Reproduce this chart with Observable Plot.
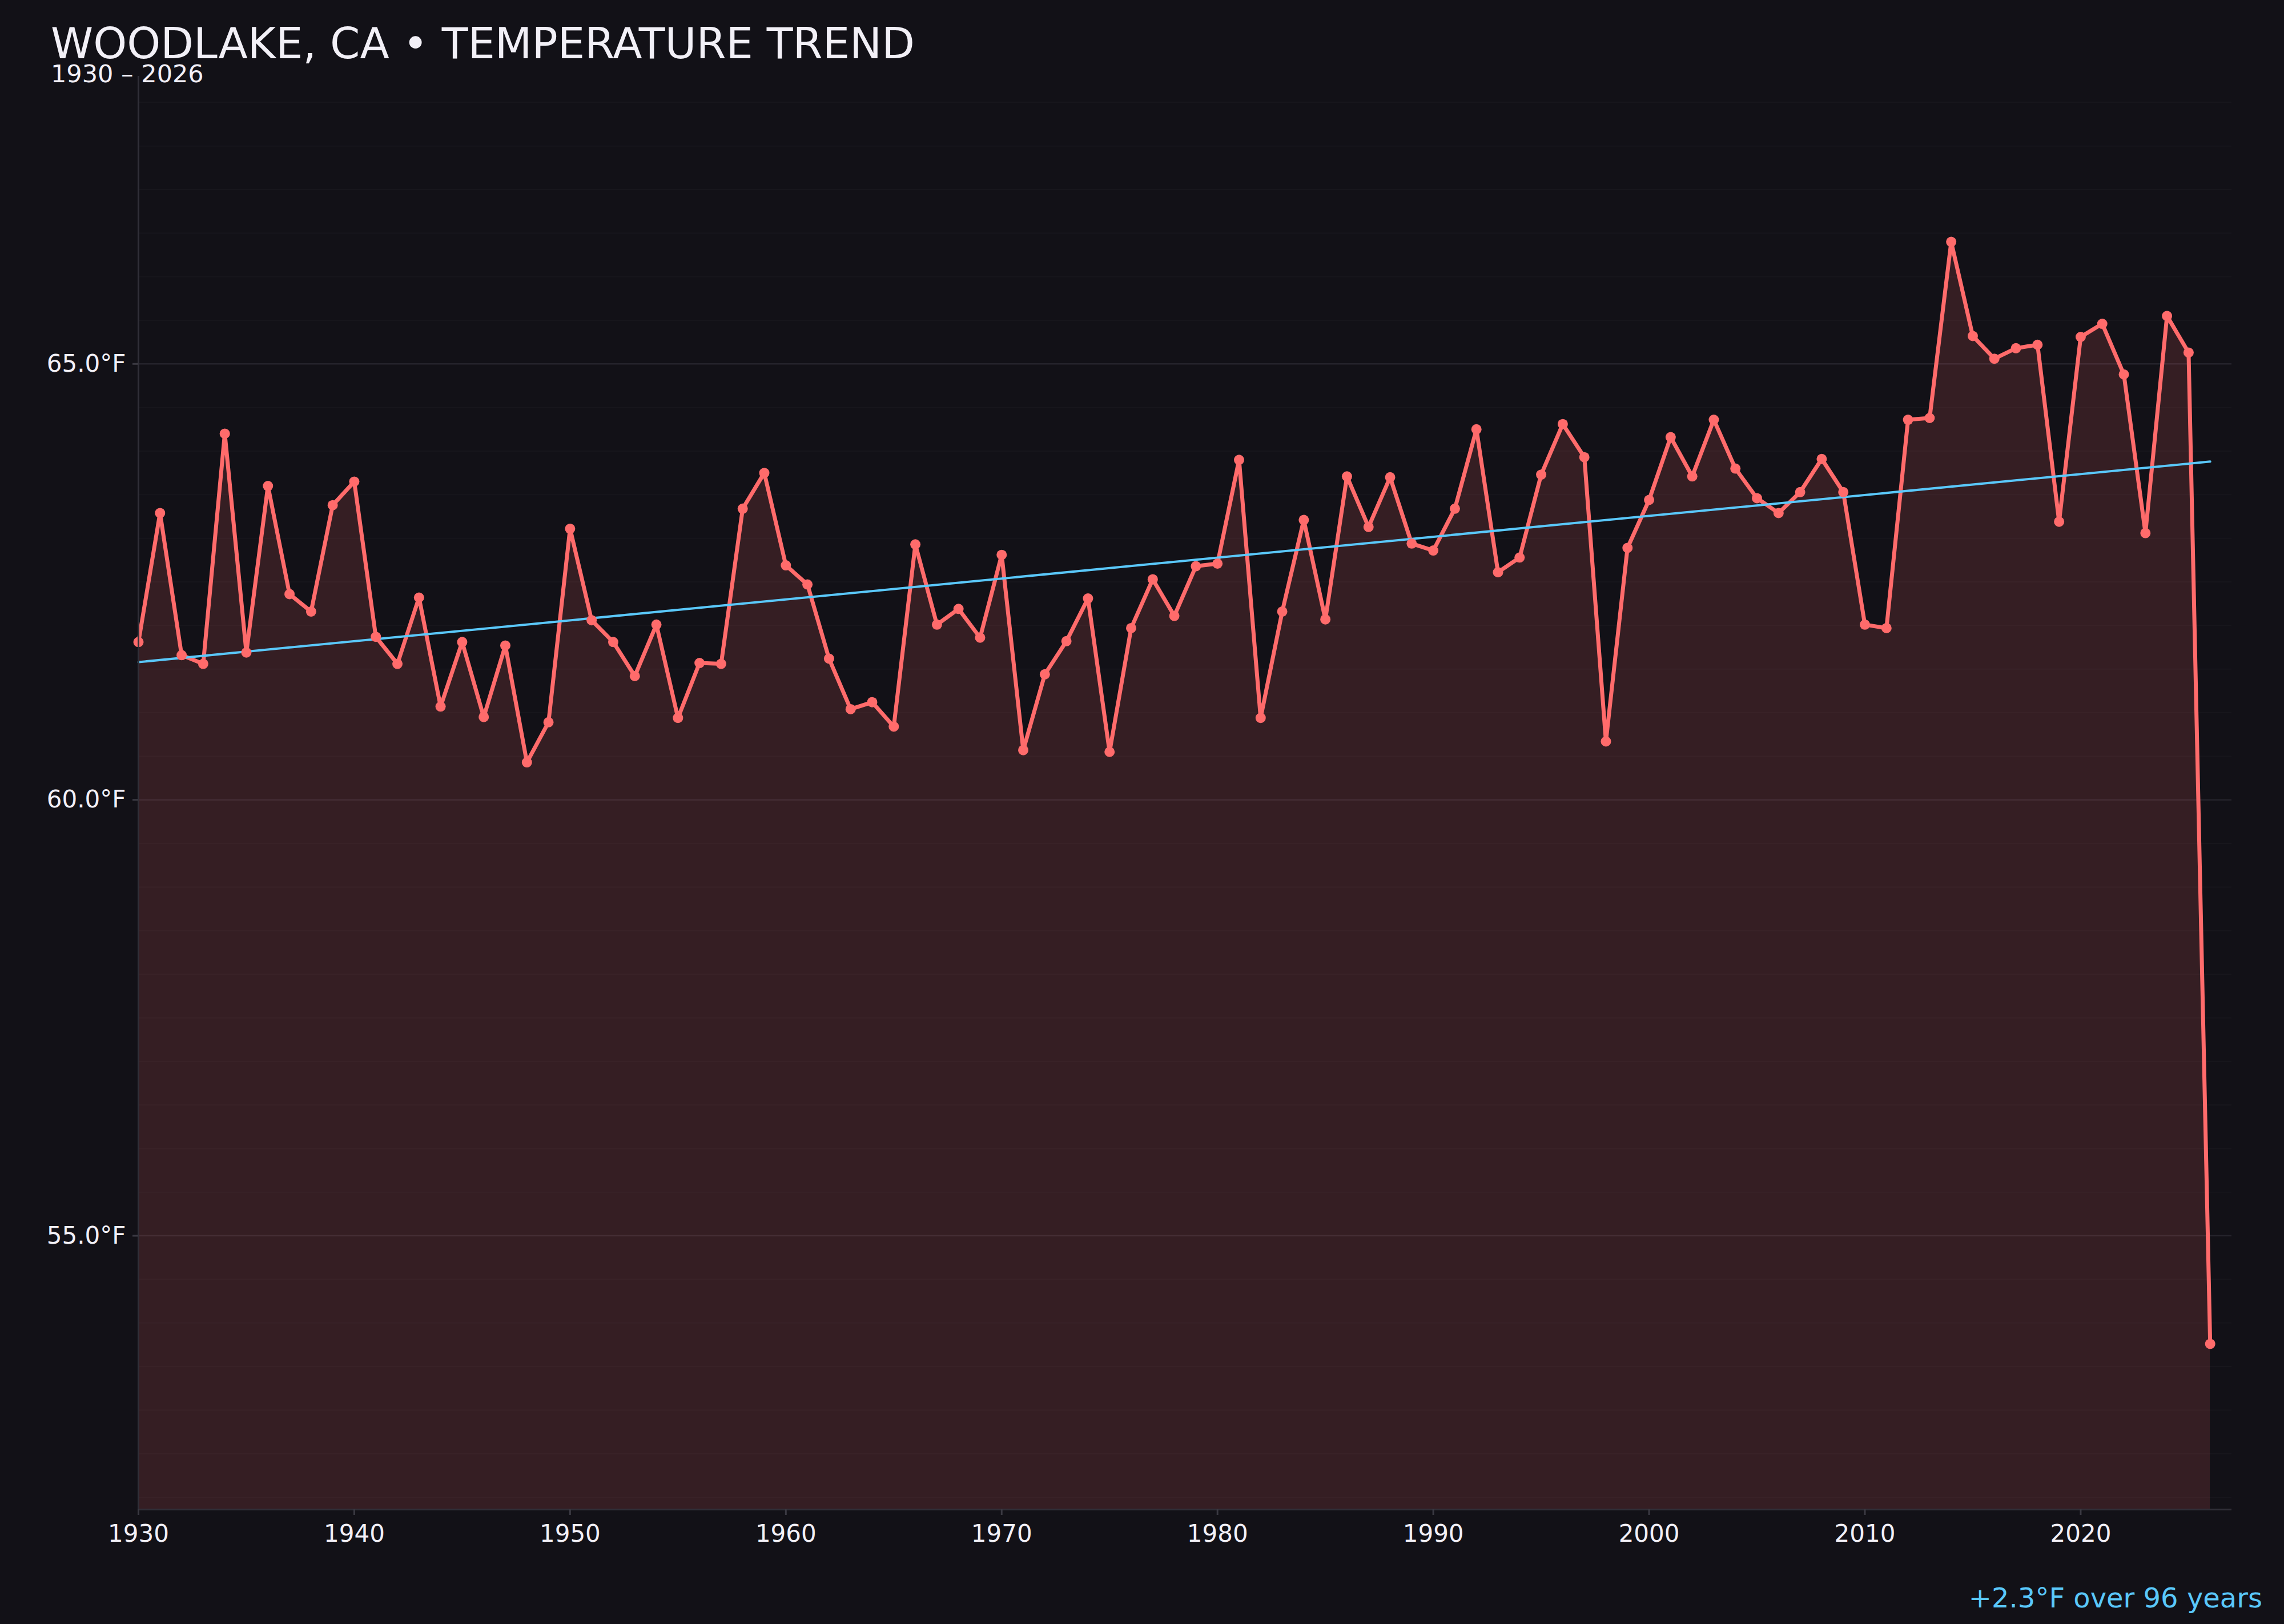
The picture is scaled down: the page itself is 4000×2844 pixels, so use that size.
<!DOCTYPE html>
<html>
<head>
<meta charset="utf-8">
<script src="https://cdn.jsdelivr.net/npm/d3@7"></script>
<script src="https://cdn.jsdelivr.net/npm/@observablehq/plot@0.6"></script>
<style>
  html, body { margin: 0; padding: 0; background: #121117; }
  #wrap { position: relative; width: 4000px; height: 2844px; background: #121117; overflow: hidden;
          font-family: "DejaVu Sans", sans-serif; }
  #title { position: absolute; left: 89px; top: 44px; font-size: 75px; line-height: 64px; color: #f2f0f7; white-space: nowrap; }
  #subtitle { position: absolute; left: 89px; top: 111px; font-size: 43px; line-height: 36px; color: #f2f0f7; white-space: nowrap; }
  #caption { position: absolute; right: 38px; top: 2774px; font-size: 48px; line-height: 48px; color: #5ac8fa; white-space: nowrap; }
  #chart { position: absolute; left: 0; top: 0; }
</style>
</head>
<body>
<div id="wrap">
  <div id="chart"></div>
  <div id="title">WOODLAKE, CA • TEMPERATURE TREND</div>
  <div id="subtitle">1930 – 2026</div>
  <div id="caption">+2.3°F over 96 years</div>
</div>
<script>
const years = [
  1930,1931,1932,1933,1934,1935,1936,1937,1938,1939,
  1940,1941,1942,1943,1944,1945,1946,1947,1948,1949,
  1950,1951,1952,1953,1954,1955,1956,1957,1958,1959,
  1960,1961,1962,1963,1964,1965,1966,1967,1968,1969,
  1970,1971,1972,1973,1974,1975,1976,1977,1978,1979,
  1980,1981,1982,1983,1984,1985,1986,1987,1988,1989,
  1990,1991,1992,1993,1994,1995,1996,1997,1998,1999,
  2000,2001,2002,2003,2004,2005,2006,2007,2008,2009,
  2010,2011,2012,2013,2014,2015,2016,2017,2018,2019,
  2020,2021,2022,2023,2024,2025,2026
];
const temps = [
  61.81,63.29,61.66,61.56,64.20,61.69,63.60,62.36,62.16,63.38,
  63.65,61.87,61.56,62.32,61.07,61.81,60.95,61.77,60.43,60.89,
  63.11,62.06,61.81,61.42,62.01,60.94,61.57,61.56,63.34,63.75,
  62.69,62.47,61.62,61.04,61.12,60.84,62.93,62.01,62.19,61.86,
  62.81,60.57,61.44,61.82,62.31,60.55,61.97,62.53,62.11,62.68,
  62.71,63.90,60.94,62.16,63.21,62.07,63.71,63.13,63.70,62.94,
  62.86,63.34,64.25,62.61,62.78,63.73,64.31,63.93,60.67,62.89,
  63.44,64.16,63.71,64.36,63.80,63.46,63.29,63.53,63.91,63.53,
  62.01,61.97,64.36,64.38,66.40,65.32,65.06,65.18,65.22,63.19,
  65.31,65.46,64.88,63.06,65.55,65.13,53.76
];
const trendYears = [1930, 2026];
const trendTemps = [61.58, 63.88];
const xTicks = [1930,1940,1950,1960,1970,1980,1990,2000,2010,2020];
const yTicks = [55, 60, 65];
const minorGrid = [52,52.5,53,53.5,54,54.5,55,55.5,56,56.5,57,57.5,58,58.5,59,59.5,60,60.5,61,61.5,62,62.5,63,63.5,64,64.5,65,65.5,66,66.5,67,67.5,68];

const data = years.map((year, i) => ({year, temp: temps[i]}));
const trend = trendYears.map((year, i) => ({year, temp: trendTemps[i]}));
const yDomain = [51.86, 68.3];
const xDomain = [1930, 2027];

const chart = Plot.plot({
  width: 4000,
  height: 2844,
  marginLeft: 242,
  marginRight: 92,
  marginTop: 133,
  marginBottom: 201,
  style: { background: "transparent", color: "#f2f0f7", fontFamily: "DejaVu Sans, sans-serif", fontSize: "42px" },
  x: { domain: xDomain },
  y: { domain: yDomain },
  marks: [
    Plot.ruleY(minorGrid, { stroke: "#17161c", strokeWidth: 2 }),
    Plot.ruleY(yTicks, { stroke: "#24232b", strokeWidth: 2.5 }),
    Plot.areaY(data, { x: "year", y1: () => yDomain[0], y2: "temp", fill: "#ff6b6b", fillOpacity: 0.15 }),
    Plot.line(data, { x: "year", y: "temp", stroke: "#ff6b6b", strokeWidth: 7 }),
    Plot.line(trend, { x: "year", y: "temp", stroke: "#5ac8fa", strokeWidth: 4 }),
    Plot.dot(data, { x: "year", y: "temp", r: 9, fill: "#ff6b6b" }),
    Plot.ruleX([xDomain[0]], { stroke: "#302f38", strokeWidth: 3 }),
    Plot.ruleY([yDomain[0]], { stroke: "#302f38", strokeWidth: 3 }),
    Plot.axisX({ ticks: xTicks, tickFormat: d => String(d), tickSize: 10, tickPadding: 17, color: "#f2f0f7", stroke: "#3a3942", strokeWidth: 3, label: null }),
    Plot.axisY({ ticks: yTicks, tickFormat: d => d.toFixed(1) + "°F", tickSize: 10, tickPadding: 12, color: "#f2f0f7", stroke: "#3a3942", strokeWidth: 3, label: null })
  ]
});
document.getElementById("chart").appendChild(chart);
</script>
</body>
</html>
